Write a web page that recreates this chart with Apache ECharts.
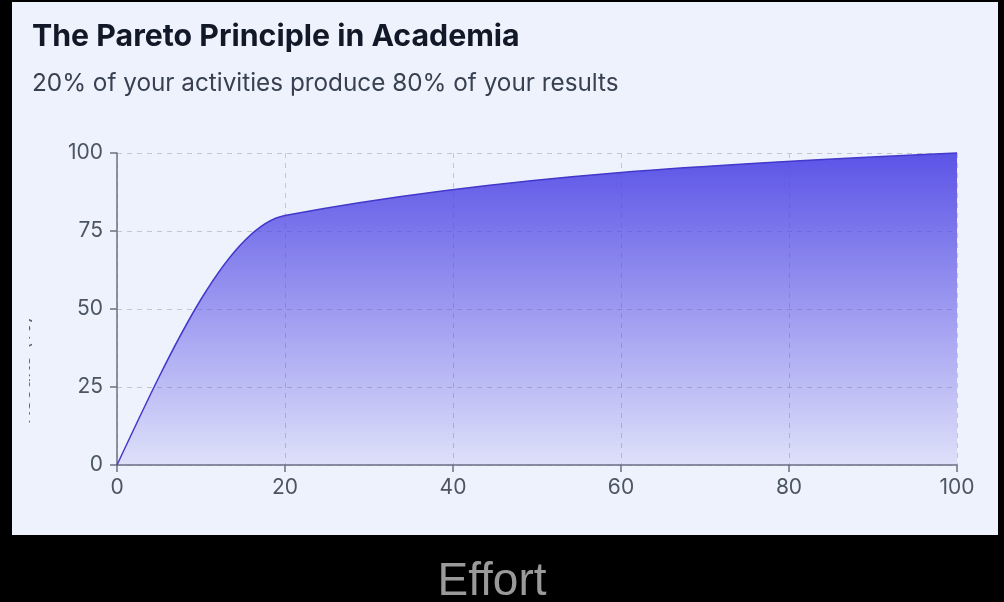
<!DOCTYPE html>
<html>
<head>
<meta charset="utf-8">
<title>The Pareto Principle in Academia</title>
<script src="https://cdn.jsdelivr.net/npm/echarts@6/dist/echarts.min.js"></script>
<style>
  html, body { margin: 0; padding: 0; background: #000; }
  #chart { width: 1004px; height: 602px; }
</style>
</head>
<body>
<div id="chart"></div>
<script>
// Cumulative results against effort (both in %)
const effort = [0, 20, 100];
const results = [0, 80, 100];

// Axis ticks
const xTickStep = 20;
const yTickStep = 25;
const axisMax = 100;

const titleText = 'The Pareto Principle in Academia';
const subtitleText = '20% of your activities produce 80% of your results';
const xName = 'Effort';
const yName = 'Results (%)';

const PANEL = '#eef2fc';
const AXIS = '#6b7280';
const LABEL = '#4b5563';

// Monotone cubic tangents (as d3.curveMonotoneX), computed in pixel space
function sgn(v) { return v < 0 ? -1 : 1; }
function monotoneTangents(px, py) {
  const n = px.length;
  const s = [];
  for (let i = 0; i < n - 1; i++) s.push((py[i + 1] - py[i]) / (px[i + 1] - px[i]));
  const m = new Array(n);
  if (n < 3) { m[0] = m[1] = s[0]; return m; }
  for (let i = 1; i < n - 1; i++) {
    const h0 = px[i] - px[i - 1], h1 = px[i + 1] - px[i];
    const p = (s[i - 1] * h1 + s[i] * h0) / (h0 + h1);
    m[i] = (sgn(s[i - 1]) + sgn(s[i])) *
      Math.min(Math.abs(s[i - 1]), Math.abs(s[i]), 0.5 * Math.abs(p)) || 0;
  }
  m[0] = (3 * s[0] - m[1]) / 2;
  m[n - 1] = (3 * s[n - 2] - m[n - 2]) / 2;
  return m;
}
function curvePath(px, py) {
  const m = monotoneTangents(px, py);
  let d = 'M' + px[0] + ',' + py[0];
  for (let i = 0; i < px.length - 1; i++) {
    const dx = (px[i + 1] - px[i]) / 3;
    d += ' C' + (px[i] + dx) + ',' + (py[i] + dx * m[i]) + ' ' +
      (px[i + 1] - dx) + ',' + (py[i + 1] - dx * m[i + 1]) + ' ' +
      px[i + 1] + ',' + py[i + 1];
  }
  return d;
}

const chart = echarts.init(document.getElementById('chart'), null, { renderer: 'canvas' });

const axisCommon = {
  type: 'value',
  min: 0,
  max: axisMax,
  axisLine: { show: true, lineStyle: { color: AXIS, width: 1.5 } },
  axisTick: { show: true, length: 7, lineStyle: { color: AXIS, width: 1.5 } },
  splitLine: { show: true, lineStyle: { color: '#c2c6cf', width: 1, type: [5, 5] } },
  axisLabel: { color: LABEL, fontSize: 21, fontFamily: 'Inter' }
};

chart.setOption({
  backgroundColor: '#000',
  animation: false,
  title: [
    {
      text: titleText, left: 32, top: 22, padding: 0,
      textStyle: { fontFamily: 'Inter', fontWeight: 700, fontSize: 30.3, color: '#111827' }
    },
    {
      text: subtitleText, left: 32, top: 72, padding: 0,
      textStyle: { fontFamily: 'Inter', fontWeight: 400, fontSize: 24.3, color: '#374151' }
    }
  ],
  grid: { left: 117, right: 47, top: 153, bottom: 137, containLabel: false },
  xAxis: Object.assign({}, axisCommon, {
    interval: xTickStep,
    axisLabel: Object.assign({}, axisCommon.axisLabel, { margin: 12 })
  }),
  yAxis: Object.assign({}, axisCommon, {
    interval: yTickStep,
    axisLabel: Object.assign({}, axisCommon.axisLabel, { margin: 14 })
  }),
  graphic: [
    { type: 'rect', z: -10, silent: true, shape: { x: 12, y: 2, width: 986, height: 533 }, style: { fill: PANEL } },
    // y-axis title, cut off at the panel's inner edge so only its lower rim shows
    {
      type: 'text', z: 50, x: 34, y: 370, rotation: Math.PI / 2,
      style: { text: yName, fill: '#5b6270', fontFamily: 'Inter', fontSize: 20, align: 'center', verticalAlign: 'bottom' }
    },
    { type: 'rect', z: 60, silent: true, shape: { x: 12, y: 290, width: 17, height: 170 }, style: { fill: PANEL } },
    {
      type: 'text', z: 50, x: 492, y: 582,
      style: { text: xName, fill: '#9a9a9a', fontFamily: 'Liberation Sans', fontSize: 46, align: 'center', verticalAlign: 'middle' }
    }
  ],
  series: [{
    type: 'custom',
    coordinateSystem: 'cartesian2d',
    data: effort.map((x, i) => [x, results[i]]),
    renderItem: function (params, api) {
      if (params.dataIndex !== 0) return;
      const pts = effort.map((x, i) => api.coord([x, results[i]]));
      const px = pts.map(p => p[0]);
      const py = pts.map(p => p[1]);
      const base = api.coord([0, 0])[1];
      const line = curvePath(px, py);
      const area = line + ' L' + px[px.length - 1] + ',' + base + ' L' + px[0] + ',' + base + ' Z';
      return {
        type: 'group',
        children: [
          {
            type: 'path', shape: { pathData: area },
            style: {
              fill: new echarts.graphic.LinearGradient(0, 0, 0, 1, [
                { offset: 0, color: 'rgba(79,70,229,0.92)' },
                { offset: 1, color: 'rgba(79,70,229,0.1)' }
              ])
            }
          },
          {
            type: 'path', shape: { pathData: line },
            style: { fill: 'none', stroke: '#4338ca', lineWidth: 1.5 }
          }
        ]
      };
    }
  }]
});
</script>
</body>
</html>
